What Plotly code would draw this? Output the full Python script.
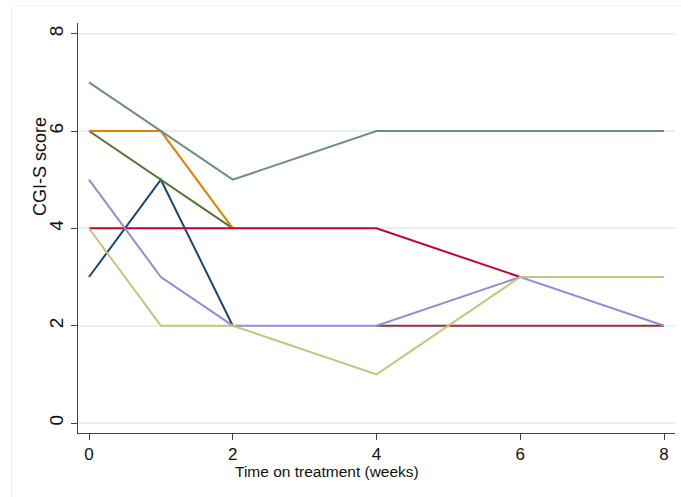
import plotly.graph_objects as go

weeks = [0, 1, 2, 4, 6, 8]

series = [
    ("navy",     "#1a476f", [0, 1, 2],          [3, 5, 2]),
    ("maroon",   "#90353b", [4, 6, 8],          [2, 2, 2]),
    ("forest",   "#55752f", [0, 1, 2],          [6, 5, 4]),
    ("dkorange", "#e37e00", [0, 1, 2],          [6, 6, 4]),
    ("teal",     "#6e8e84", [0, 1, 2, 4, 6, 8], [7, 6, 5, 6, 6, 6]),
    ("cranberry","#c10534", [0, 1, 2, 4, 6],    [4, 4, 4, 4, 3]),
    ("lavender", "#938dd2", [0, 1, 2, 4, 6, 8], [5, 3, 2, 2, 3, 2]),
    ("khaki",    "#cac27e", [0, 1, 2, 4, 6, 8], [4, 2, 2, 1, 3, 3]),
]

x_ticks = [0, 2, 4, 6, 8]
y_ticks = [0, 2, 4, 6, 8]

fig = go.Figure()
for name, color, xs, ys in series:
    fig.add_trace(go.Scatter(x=xs, y=ys, mode="lines", name=name,
                             line=dict(color=color, width=2), showlegend=False))

font = "Liberation Sans, Arial, sans-serif"
fig.update_layout(
    width=681, height=497,
    margin=dict(l=78, r=6, t=23, b=64),
    plot_bgcolor="white", paper_bgcolor="white",
    font=dict(family=font, color="#111"),
    showlegend=False,
)
fig.update_xaxes(range=[-0.153, 8.153], tickvals=x_ticks, showgrid=False, zeroline=False,
                 showline=True, linecolor="#444", linewidth=1, ticks="outside",
                 ticklen=6, tickcolor="#444", tickfont=dict(size=17, family=font),
                 mirror=False)
fig.update_yaxes(range=[-0.205, 8.22], tickvals=y_ticks, showgrid=True, gridcolor="#E8F0F2",
                 gridwidth=1.5, zeroline=False,
                 showline=True, linecolor="#444", linewidth=1, ticks="outside",
                 ticklen=6, tickcolor="#444", tickangle=-90,
                 tickfont=dict(size=19, family=font), mirror=False)

fig.add_annotation(text="Time on treatment (weeks)", xref="paper", yref="paper",
                   x=(327 - 78) / 597, y=(433 - 471) / 410, showarrow=False,
                   xanchor="center", yanchor="middle", font=dict(size=15.5, family=font, color="#111"))
fig.add_annotation(text="CGI-S score", xref="paper", yref="paper",
                   x=(40 - 78) / 597, y=(433 - 167) / 410, showarrow=False, textangle=-90,
                   xanchor="center", yanchor="middle", font=dict(size=18, family=font, color="#111"))

fig.add_shape(type="rect", xref="paper", yref="paper",
              x0=(11.5 - 78) / 597, x1=(690 - 78) / 597,
              y0=(433 - 510) / 410, y1=(433 - 5.5) / 410,
              line=dict(color="#EEF3F5", width=1), layer="below")

fig.write_html("out.html")
